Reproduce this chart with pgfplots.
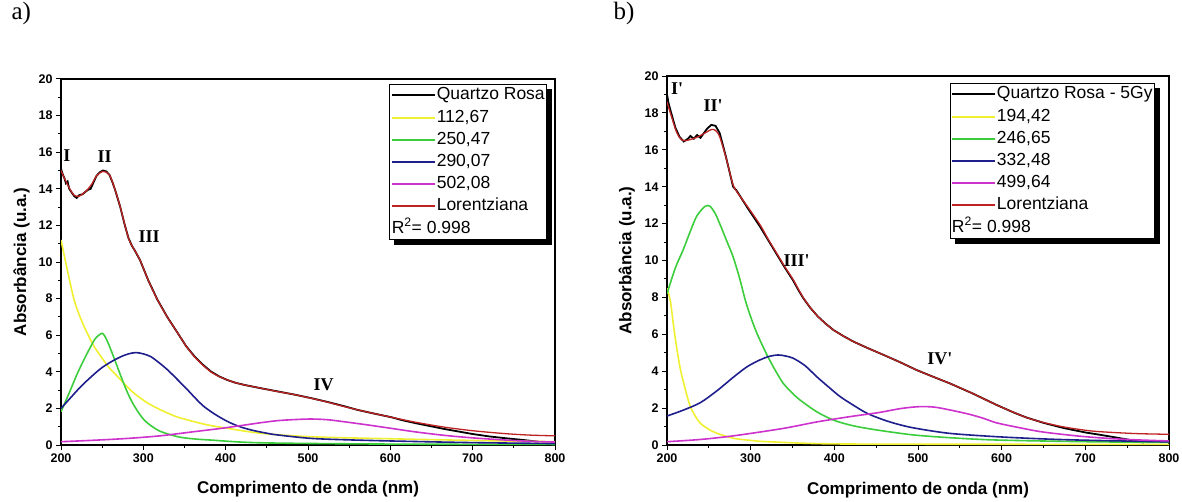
\documentclass[border=0pt]{standalone}
\usepackage{fontspec}
\setmainfont{Liberation Sans}
\newfontfamily\serifroman{Liberation Serif}
\usepackage{pgfplots}
\pgfplotsset{compat=1.18}
\usetikzlibrary{calc}
\definecolor{cyel}{RGB}{240,240,50}
\definecolor{cgrn}{RGB}{60,205,60}
\definecolor{cblu}{RGB}{30,30,140}
\definecolor{cmag}{RGB}{205,50,205}
\definecolor{cred}{RGB}{190,35,35}
\tikzset{lbl/.style={font=\serifroman\bfseries\fontsize{18}{20}\selectfont}}
\pgfplotsset{
 myax/.style={
  scale only axis,
  xmin=200, xmax=800, ymin=0, ymax=20,
  xtick={200,300,...,800}, ytick={0,2,...,20},
  minor x tick num=1, minor y tick num=1,
  tick align=outside, xtick pos=bottom, ytick pos=left,
  major tick length=5pt, minor tick length=3pt,
  every tick/.style={black, line width=1pt},
  axis line style={line width=1.2pt},
  tick label style={font=\bfseries\fontsize{12.5}{14}\selectfont},
  /pgf/number format/assume math mode=true,
  /pgf/number format/.cd, use comma=false, 1000 sep={}, /pgfplots/.cd,
  label style={font=\bfseries\fontsize{17}{19}\selectfont},
  xlabel={Comprimento de onda (nm)},
  ylabel={Absorbância (u.a.)},
  legend cell align=left,
  legend image code/.code={\draw[##1] (0pt,0pt) -- (43pt,0pt);},
  legend image post style={line width=2pt},
  legend style={draw=black, line width=0.7pt, fill=white,
    font=\fontsize{17.5}{19}\selectfont,
    inner xsep=1pt, inner ysep=2pt, row sep=4.2pt,
    nodes={inner xsep=1pt, inner ysep=1pt, text height=12.5pt, text depth=3.5pt}},
 },
}
\begin{document}
\begin{tikzpicture}
\path[use as bounding box] (0,0) rectangle (1182pt,501pt);
\node[anchor=west, font=\serifroman\fontsize{25}{27}\selectfont] at (8pt,488pt) {a)};
\node[anchor=west, font=\serifroman\fontsize{25}{27}\selectfont] at (610pt,488pt) {b)};
% ---------------- panel a
\begin{axis}[myax, at={(61pt,56pt)}, anchor=south west, width=494pt, height=366pt,
  xlabel style={at={(axis description cs:0.5,-0.121)}, anchor=center},
  ylabel style={at={(axis description cs:-0.080,0.5)}, anchor=center},
  legend style={name=legA, at={(rel axis cs:0.984,0.986)}, anchor=north east}]
\addplot[black, line width=1.8pt] coordinates {
(200,15.1)(202,14.8)(204,14.6)(206,14.3)(208,14.4)(210,14.0)(213,13.8)(216,13.6)(219,13.5)(222,13.65)(226,13.7)(230,13.85)(233,13.95)(236,14.0)(239,14.3)(243,14.7)(247,14.9)(251,15.0)(255,14.95)(259,14.75)(263,14.3)(266,13.9)(272,13.0)(277,12.1)(282,11.3)(286,10.9)(290,10.6)(296,10.1)(306,9.0)(317,7.95)(329,7.0)(342,6.1)(352,5.4)(362,4.85)(372,4.4)(382,4.02)(392,3.75)(402,3.55)(412,3.4)(423,3.28)(443,3.1)(463,2.93)(484,2.75)(504,2.56)(524,2.35)(544,2.12)(560,1.92)(580,1.72)(601,1.52)(615,1.35)(630,1.2)(650,1.02)(665,0.88)(685,0.72)(700,0.6)(720,0.47)(740,0.37)(760,0.28)(770,0.23)(780,0.18)};
\addlegendentry{Quartzo Rosa\hspace{11pt}}
\addplot[cyel, line width=1.6pt, smooth] coordinates {
(200,11.2)(208,9.5)(216,7.92)(224,6.9)(232,6.1)(240,5.4)(248.6,4.83)(258,4.25)(269,3.73)(279,3.25)(289,2.82)(305,2.3)(321.5,1.91)(340,1.55)(362,1.27)(380,1.08)(402.5,0.91)(443,0.64)(504,0.45)(601,0.34)(700,0.25)(800,0.18)};
\addlegendentry{112,67}
\addplot[cgrn, line width=1.6pt, smooth] coordinates {
(200,1.82)(210,2.85)(220,3.92)(230,4.85)(240.5,5.74)(246,6.0)(250.6,6.1)(255,5.8)(260.7,5.19)(267,4.45)(273,3.73)(279,3.05)(285,2.46)(293,1.85)(301,1.37)(311,1.0)(321.5,0.73)(342,0.45)(360,0.34)(382,0.27)(443,0.12)(601,0.05)(800,0.03)};
\addlegendentry{250,47}
\addplot[cblu, line width=1.6pt, smooth] coordinates {
(200,2.0)(212,2.6)(224,3.19)(236,3.7)(248.6,4.19)(261,4.55)(273,4.83)(282,4.98)(291,5.05)(300,4.98)(309,4.83)(319,4.5)(329.6,4.1)(342,3.55)(354,3.0)(364,2.52)(374,2.09)(388,1.65)(402.5,1.28)(416,1.02)(431,0.82)(447,0.67)(463,0.55)(504,0.36)(550,0.28)(601,0.22)(700,0.13)(800,0.08)};
\addlegendentry{290,07}
\addplot[cmag, line width=1.6pt, smooth] coordinates {
(200,0.18)(240,0.26)(281,0.36)(320,0.5)(362,0.73)(393,0.9)(423,1.09)(443,1.22)(463,1.33)(484,1.39)(504,1.42)(524,1.38)(544,1.27)(572,1.1)(601,0.91)(630,0.72)(665,0.53)(700,0.39)(733,0.29)(765,0.21)(800,0.16)};
\addlegendentry{502,08}
\addplot[cred, line width=1.3pt, smooth] coordinates {
(200,15.0)(205,14.5)(210,14.05)(216,13.65)(222,13.6)(231,13.9)(238,14.3)(243,14.7)(251,14.95)(259,14.75)(266,13.9)(272,13.0)(282,11.3)(290,10.6)(296,10.1)(306,9.0)(317,7.95)(329,7.0)(342,6.1)(352,5.4)(362,4.83)(372,4.38)(382,4.0)(392,3.74)(402.5,3.55)(412,3.4)(423,3.28)(443,3.1)(463,2.92)(484,2.75)(504,2.55)(524,2.34)(544,2.1)(572,1.8)(601,1.52)(630,1.25)(665,0.98)(700,0.78)(740,0.62)(770,0.54)(800,0.5)};
\addlegendentry{Lorentziana}
\addlegendimage{empty legend}
\addlegendentry{\hspace{-45pt}R\textsuperscript{2}= 0.998}
\node[lbl] at (axis cs:207,15.8) {I};
\node[lbl] at (axis cs:253,15.75) {II};
\node[lbl] at (axis cs:307,11.4) {III};
\node[lbl] at (axis cs:519,3.3) {IV};
\end{axis}
\fill[black] ($(legA.north east)+(0,-5pt)$) rectangle ($(legA.south east)+(5pt,-5pt)$);
\fill[black] ($(legA.south west)+(5pt,0)$) rectangle ($(legA.south east)+(5pt,-5pt)$);
% ---------------- panel b
\begin{axis}[myax, at={(667pt,56pt)}, anchor=south west, width=502pt, height=369pt,
  xlabel style={at={(axis description cs:0.5,-0.121)}, anchor=center},
  ylabel style={at={(axis description cs:-0.080,0.5)}, anchor=center},
  legend style={name=legB, at={(rel axis cs:0.972,0.981)}, anchor=north east}]
\addplot[black, line width=1.8pt] coordinates {
(200,19.0)(202,18.5)(205,18.0)(210,17.2)(215,16.7)(220,16.45)(225,16.6)(228,16.75)(232,16.6)(236,16.8)(240,16.65)(244,16.9)(248,17.15)(253,17.35)(258,17.3)(263,16.9)(270,15.7)(279,14.0)(283,13.8)(290,13.3)(297,12.8)(311,11.85)(321,11.1)(331,10.35)(341,9.6)(351,8.9)(357,8.4)(363,7.95)(371,7.45)(380,6.98)(389,6.6)(399,6.23)(411,5.9)(423,5.6)(440,5.25)(459,4.88)(478,4.5)(498,4.07)(518,3.7)(538,3.34)(565,2.8)(594,2.17)(615,1.75)(629,1.5)(650,1.2)(674,0.92)(700,0.68)(718,0.55)(735,0.42)(750,0.3)(762,0.2)(770,0.13)};
\addlegendentry{Quartzo Rosa - 5Gy}
\addplot[cyel, line width=1.6pt, smooth] coordinates {
(200,8.5)(204,7.8)(208,6.4)(212,5.15)(216,4.1)(220,3.35)(224,2.65)(228,2.07)(234,1.55)(240,1.17)(250,0.85)(260,0.63)(280,0.36)(300,0.25)(320,0.18)(400,0.06)(600,0.04)(800,0.03)};
\addlegendentry{194,42}
\addplot[cgrn, line width=1.6pt, smooth] coordinates {
(200,8.2)(210,9.6)(219.5,10.6)(228,11.6)(235.5,12.4)(245,12.92)(251,12.95)(257,12.6)(263,12.0)(271,11.1)(279,10.2)(287,9.0)(293.5,7.86)(300,6.95)(307.5,6.05)(319.5,4.88)(330,4.0)(339,3.34)(349,2.85)(359,2.44)(379,1.8)(399,1.35)(419,1.08)(439,0.9)(468,0.7)(498,0.53)(540,0.39)(594,0.27)(700,0.18)(800,0.14)};
\addlegendentry{246,65}
\addplot[cblu, line width=1.6pt, smooth] coordinates {
(200,1.57)(220,1.9)(240,2.3)(260,2.95)(280,3.7)(296,4.25)(311,4.61)(322,4.8)(333,4.88)(342,4.82)(351,4.7)(365,4.3)(379,3.7)(393,3.15)(407,2.62)(423,2.15)(439,1.72)(459,1.36)(478,1.1)(498,0.9)(538,0.63)(594,0.45)(650,0.33)(700,0.26)(800,0.17)};
\addlegendentry{332,48}
\addplot[cmag, line width=1.6pt, smooth] coordinates {
(200,0.18)(240,0.3)(280,0.5)(339,0.9)(379,1.25)(419,1.54)(452,1.75)(480,1.98)(502,2.08)(520,2.05)(538,1.9)(560,1.68)(578,1.45)(594,1.2)(620,0.95)(650,0.7)(700,0.45)(750,0.3)(800,0.22)};
\addlegendentry{499,64}
\addplot[cred, line width=1.3pt, smooth] coordinates {
(200,18.6)(204,18.0)(212,16.9)(219.5,16.5)(231,16.6)(239,16.75)(247,16.95)(253,17.1)(258,17.05)(263,16.7)(271,15.5)(279,14.1)(287,13.5)(295,13.0)(311,11.95)(321,11.15)(331,10.4)(341,9.65)(351,8.95)(357,8.45)(363,7.98)(371,7.47)(380,6.98)(389,6.6)(399,6.23)(411,5.9)(423,5.6)(440,5.25)(459,4.88)(478,4.5)(498,4.07)(518,3.7)(538,3.34)(565,2.8)(594,2.17)(629,1.5)(650,1.22)(674,0.98)(700,0.8)(718,0.72)(760,0.62)(800,0.58)};
\addlegendentry{Lorentziana}
\addlegendimage{empty legend}
\addlegendentry{\hspace{-45pt}R\textsuperscript{2}= 0.998}
\node[lbl] at (axis cs:212,19.3) {I'};
\node[lbl] at (axis cs:255,18.4) {II'};
\node[lbl] at (axis cs:355,10.0) {III'};
\node[lbl] at (axis cs:526,4.7) {IV'};
\end{axis}
\fill[black] ($(legB.north east)+(0,-5pt)$) rectangle ($(legB.south east)+(5pt,-5pt)$);
\fill[black] ($(legB.south west)+(5pt,0)$) rectangle ($(legB.south east)+(5pt,-5pt)$);
\end{tikzpicture}
\end{document}
